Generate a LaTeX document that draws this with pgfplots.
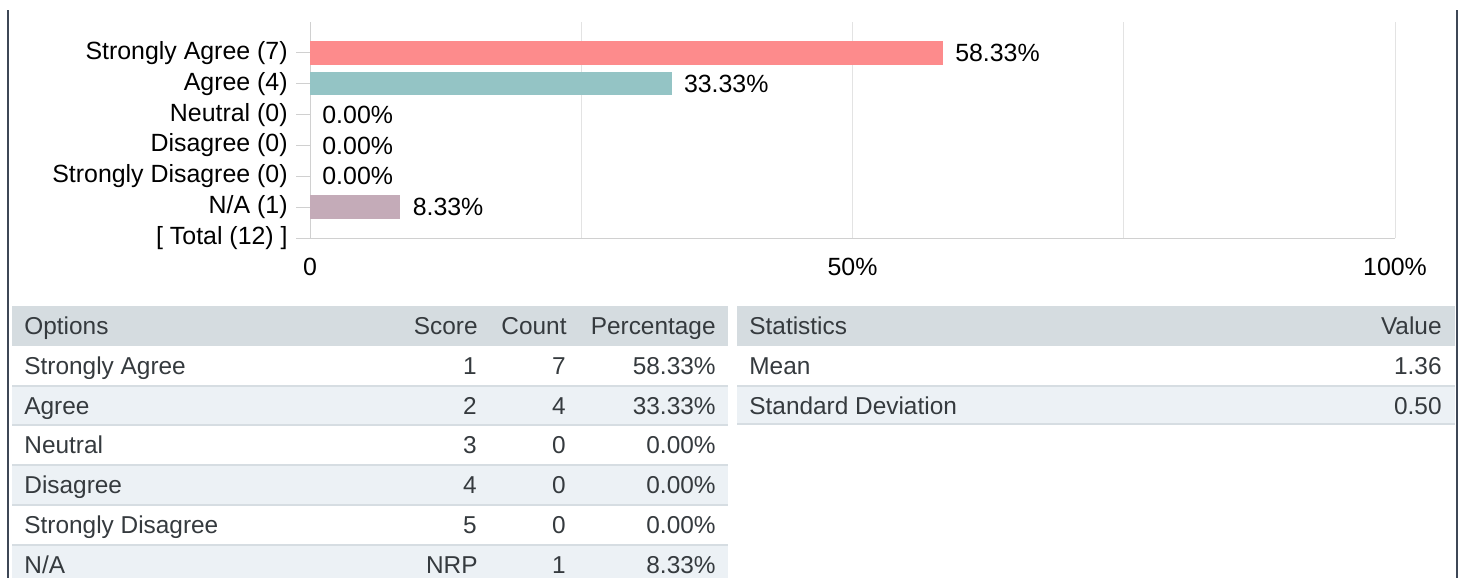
\documentclass[border=0pt]{standalone}
\usepackage{pgfplots}
\pgfplotsset{compat=1.18}
\usepackage{fontspec}
\setmainfont{Liberation Sans}
\definecolor{barA}{HTML}{FD8B8C}
\definecolor{barB}{HTML}{94C4C5}
\definecolor{barC}{HTML}{C4ABB8}
\definecolor{axisgray}{HTML}{D0D0D0}
\definecolor{gridgray}{HTML}{E3E3E3}
\definecolor{hdr}{HTML}{D5DCE0}
\definecolor{rowlight}{HTML}{ECF1F5}
\definecolor{sep}{HTML}{D6DDE2}
\definecolor{border}{HTML}{3E4756}
\definecolor{tabtext}{HTML}{353A3E}
\newcommand{\cfont}{\fontsize{12.2pt}{14pt}\selectfont}
\newcommand{\gfont}{\fontsize{12.45pt}{14pt}\selectfont}
\begin{document}
\begin{tikzpicture}
\begin{scope}[x=0.5pt,y=-0.5pt]
\useasboundingbox (0,0) rectangle (1461,578);
\fill[white] (0,0) rectangle (1461,578);
% borders
\fill[border] (7,10) rectangle (9,578);
\fill[border] (1456,10) rectangle (1458,578);
% left table
\fill[hdr] (12,306) rectangle (728,346);
\fill[rowlight] (12,386) rectangle (728,425);
\fill[rowlight] (12,465) rectangle (728,505);
\fill[rowlight] (12,545) rectangle (728,578);
\foreach \yy in {385,424,464,504,544} \fill[sep] (12,\yy) rectangle (728,\yy+2);
% right table
\fill[hdr] (737,306) rectangle (1455,346);
\fill[rowlight] (737,386) rectangle (1455,424);
\fill[sep] (737,385) rectangle (1455,387);
\fill[sep] (737,423) rectangle (1455,425);
% table text
\begin{scope}[every node/.style={inner sep=0pt, text=tabtext, font=\cfont}]
\node[anchor=base west] at (24,334.7) {Options};
\node[anchor=base east] at (478,334.7) {Score};
\node[anchor=base east] at (567,334.7) {Count};
\node[anchor=base east] at (716,334.7) {Percentage};
\node[anchor=base west] at (24,374.7) {Strongly Agree};
\node[anchor=base east] at (477,374.7) {1};
\node[anchor=base east] at (566,374.7) {7};
\node[anchor=base east] at (716,374.7) {58.33\%};
\node[anchor=base west] at (24,414.7) {Agree};
\node[anchor=base east] at (477,414.7) {2};
\node[anchor=base east] at (566,414.7) {4};
\node[anchor=base east] at (716,414.7) {33.33\%};
\node[anchor=base west] at (24,453.7) {Neutral};
\node[anchor=base east] at (477,453.7) {3};
\node[anchor=base east] at (566,453.7) {0};
\node[anchor=base east] at (716,453.7) {0.00\%};
\node[anchor=base west] at (24,493.7) {Disagree};
\node[anchor=base east] at (477,493.7) {4};
\node[anchor=base east] at (566,493.7) {0};
\node[anchor=base east] at (716,493.7) {0.00\%};
\node[anchor=base west] at (24,533.7) {Strongly Disagree};
\node[anchor=base east] at (477,533.7) {5};
\node[anchor=base east] at (566,533.7) {0};
\node[anchor=base east] at (716,533.7) {0.00\%};
\node[anchor=base west] at (24,573.7) {N/A};
\node[anchor=base east] at (478,573.7) {NRP};
\node[anchor=base east] at (566,573.7) {1};
\node[anchor=base east] at (716,573.7) {8.33\%};
\node[anchor=base west] at (749,334.7) {Statistics};
\node[anchor=base east] at (1442,334.7) {Value};
\node[anchor=base west] at (749,374.7) {Mean};
\node[anchor=base east] at (1442,374.7) {1.36};
\node[anchor=base west] at (749,414.7) {Standard Deviation};
\node[anchor=base east] at (1442,414.7) {0.50};
\end{scope}
\end{scope}
\begin{axis}[
  at={(155pt,-119pt)}, anchor=south west,
  width=542.5pt, height=108pt, scale only axis,
  xmin=0, xmax=100, ymin=0, ymax=7,
  axis lines*=left,
  axis line style={draw=axisgray, line width=0.5pt, -},
  xtick={0,25,50,75,100},
  xticklabels={0,,50\%,,100\%},
  xmajorgrids, grid style={draw=gridgray, line width=0.5pt},
  x tick style={draw=none},
  ytick={0,1,2,3,4,5,6},
  yticklabels={{[ Total (12) ]},{N/A (1)},{Strongly Disagree (0)},{Disagree (0)},{Neutral (0)},{Agree (4)},{Strongly Agree (7)}},
  y tick style={draw=axisgray, line width=0.5pt},
  tick align=outside, major tick length=7pt,
  xticklabel style={font=\gfont, inner sep=0pt, anchor=north, yshift=-3pt},
  yticklabel style={font=\gfont, inner sep=0pt, anchor=east, xshift=-4pt},
  /pgf/number format/assume math mode=true,
  clip=false,
]
\addplot[xbar, bar width=11.75pt, bar shift=0pt, fill=barA, draw=none,
  point meta=x, nodes near coords={\pgfmathprintnumber[fixed,fixed zerofill,precision=2]{\pgfplotspointmeta}\%},
  nodes near coords style={anchor=west, inner sep=0pt, xshift=6pt, font=\gfont, text=black}]
  coordinates {(58.33,6)};
\addplot[xbar, bar width=11.75pt, bar shift=0pt, fill=barB, draw=none,
  point meta=x, nodes near coords={\pgfmathprintnumber[fixed,fixed zerofill,precision=2]{\pgfplotspointmeta}\%},
  nodes near coords style={anchor=west, inner sep=0pt, xshift=6pt, font=\gfont, text=black}]
  coordinates {(33.33,5)};
\addplot[xbar, bar width=11.75pt, bar shift=0pt, fill=none, draw=none,
  point meta=x, nodes near coords={\pgfmathprintnumber[fixed,fixed zerofill,precision=2]{\pgfplotspointmeta}\%},
  nodes near coords style={anchor=west, inner sep=0pt, xshift=6pt, font=\gfont, text=black}]
  coordinates {(0,4) (0,3) (0,2)};
\addplot[xbar, bar width=11.75pt, bar shift=0pt, fill=barC, draw=none,
  point meta=x, nodes near coords={\pgfmathprintnumber[fixed,fixed zerofill,precision=2]{\pgfplotspointmeta}\%},
  nodes near coords style={anchor=west, inner sep=0pt, xshift=6pt, font=\gfont, text=black}]
  coordinates {(8.33,1)};
\end{axis}
\end{tikzpicture}
\end{document}
